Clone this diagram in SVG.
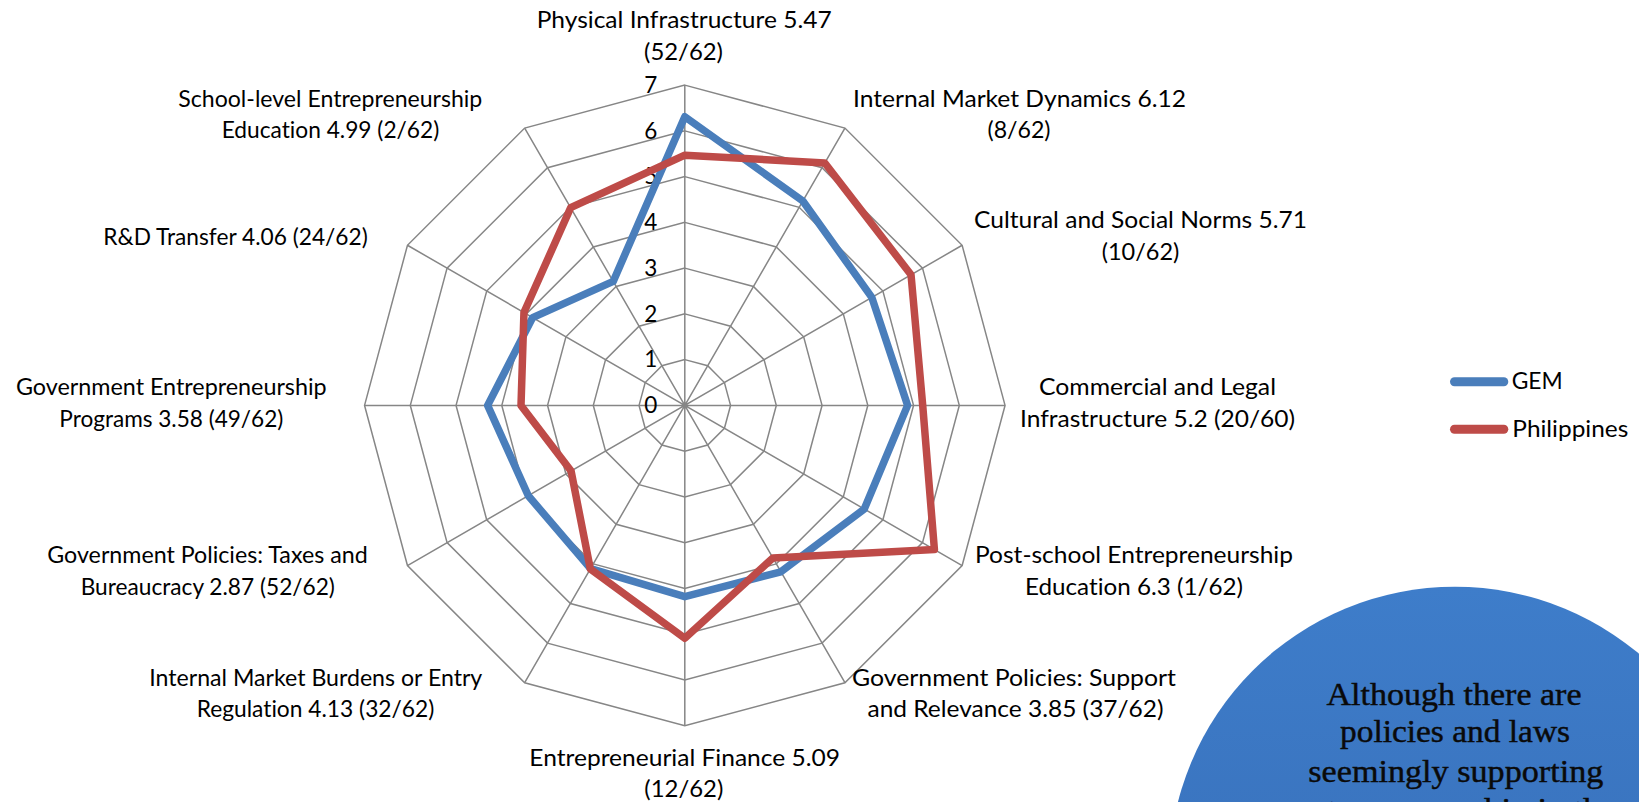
<svg xmlns="http://www.w3.org/2000/svg" width="1639" height="802" viewBox="0 0 1639 802">
<style>
.lbl{font-family:Lato,"Open Sans","Liberation Sans",sans-serif;font-size:22.5px;fill:#000;text-anchor:middle;font-variant-ligatures:none}
.num{font-family:Lato,"Open Sans","Liberation Sans",sans-serif;font-size:22.5px;fill:#000;text-anchor:end}
.ring{fill:none;stroke:#868686;stroke-width:1.5}
.ser{fill:none;stroke-width:7.5;stroke-linejoin:round}
.gem{stroke:#4A7EBB}
.phl{stroke:#BE4B48}
.leg{font-family:Lato,"Open Sans","Liberation Sans",sans-serif;font-size:22.5px;fill:#000;font-variant-ligatures:none}
.call{font-family:"Liberation Serif","DejaVu Serif",serif;font-size:32.5px;fill:#0a0a0a;stroke:#0a0a0a;stroke-width:0.45;text-anchor:middle}
</style>
<defs>
<linearGradient id="cg" x1="0" y1="0" x2="0" y2="1">
<stop offset="0" stop-color="#3E7DCA"/>
<stop offset="1" stop-color="#3569B2"/>
</linearGradient>
</defs>
<rect width="1639" height="802" fill="#fff"/>

<g id="grid" transform="translate(684.8,405.4)">
<polygon class="ring" points="0,-45.75 22.88,-39.62 39.62,-22.88 45.75,0 39.62,22.88 22.88,39.62 0,45.75 -22.88,39.62 -39.62,22.88 -45.75,0 -39.62,-22.88 -22.88,-39.62"/>
<polygon class="ring" points="0,-91.5 45.75,-79.24 79.24,-45.75 91.5,0 79.24,45.75 45.75,79.24 0,91.5 -45.75,79.24 -79.24,45.75 -91.5,0 -79.24,-45.75 -45.75,-79.24"/>
<polygon class="ring" points="0,-137.25 68.63,-118.86 118.86,-68.63 137.25,0 118.86,68.63 68.63,118.86 0,137.25 -68.63,118.86 -118.86,68.63 -137.25,0 -118.86,-68.63 -68.63,-118.86"/>
<polygon class="ring" points="0,-183 91.5,-158.48 158.48,-91.5 183,0 158.48,91.5 91.5,158.48 0,183 -91.5,158.48 -158.48,91.5 -183,0 -158.48,-91.5 -91.5,-158.48"/>
<polygon class="ring" points="0,-228.75 114.38,-198.1 198.1,-114.38 228.75,0 198.1,114.38 114.38,198.1 0,228.75 -114.38,198.1 -198.1,114.38 -228.75,0 -198.1,-114.38 -114.38,-198.1"/>
<polygon class="ring" points="0,-274.5 137.25,-237.72 237.72,-137.25 274.5,0 237.72,137.25 137.25,237.72 0,274.5 -137.25,237.72 -237.72,137.25 -274.5,0 -237.72,-137.25 -137.25,-237.72"/>
<polygon class="ring" points="0,-320.25 160.13,-277.34 277.34,-160.13 320.25,0 277.34,160.13 160.13,277.34 0,320.25 -160.13,277.34 -277.34,160.13 -320.25,0 -277.34,-160.13 -160.13,-277.34"/>
<path class="ring" d="M0,-320.25 L0,320.25 M160.13,-277.34 L-160.13,277.34 M277.34,-160.13 L-277.34,160.13 M-320.25,0 L320.25,0 M277.34,160.13 L-277.34,-160.13 M160.13,277.34 L-160.13,-277.34"/>
<text class="num" x="-27.5" y="7.8">0</text>
<text class="num" x="-27.5" y="-37.95">1</text>
<text class="num" x="-27.5" y="-83.7">2</text>
<text class="num" x="-27.5" y="-129.45">3</text>
<text class="num" x="-27.5" y="-175.2">4</text>
<text class="num" x="-27.5" y="-220.95">5</text>
<text class="num" x="-27.5" y="-266.7">6</text>
<text class="num" x="-27.5" y="-312.45">7</text>
</g>

<g id="connectors" transform="translate(684.8,405.4)">
<polygon id="series-gem" class="ser gem" points="0,-288.68 118.04,-204.44 187,-107.97 222.8,0 179.48,103.62 96.08,166.4 0,191.24 -94.25,163.23 -156.5,90.36 -197.18,0 -152.14,-87.84 -71.6,-124.01"/>
<polygon id="series-philippines" class="ser phl" points="0,-250.25 140,-242.47 226.23,-130.62 237.9,0 249.61,144.11 88.07,152.54 0,232.87 -94.47,163.63 -113.71,65.65 -163.79,0 -160.86,-92.87 -114.15,-197.71"/>
</g>

<g id="label-physical-infrastructure">
<text class="lbl" x="684.2" y="28.3" textLength="295" lengthAdjust="spacingAndGlyphs">Physical Infrastructure 5.47</text>
<text class="lbl" x="683.5" y="60" textLength="79" lengthAdjust="spacingAndGlyphs">(52/62)</text>
</g>
<g id="label-internal-market-dynamics">
<text class="lbl" x="1019.5" y="106.7" textLength="333" lengthAdjust="spacingAndGlyphs">Internal Market Dynamics 6.12</text>
<text class="lbl" x="1019" y="138.4" textLength="63" lengthAdjust="spacingAndGlyphs">(8/62)</text>
</g>
<g id="label-cultural-social-norms">
<text class="lbl" x="1140.5" y="228.3" textLength="333" lengthAdjust="spacingAndGlyphs">Cultural and Social Norms 5.71</text>
<text class="lbl" x="1140.5" y="260" textLength="77.6" lengthAdjust="spacingAndGlyphs">(10/62)</text>
</g>
<g id="label-commercial-legal">
<text class="lbl" x="1157.5" y="395" textLength="237" lengthAdjust="spacingAndGlyphs">Commercial and Legal</text>
<text class="lbl" x="1157.5" y="427" textLength="275" lengthAdjust="spacingAndGlyphs">Infrastructure 5.2 (20/60)</text>
</g>
<g id="label-post-school">
<text class="lbl" x="1134" y="563.3" textLength="318" lengthAdjust="spacingAndGlyphs">Post-school Entrepreneurship</text>
<text class="lbl" x="1134" y="595" textLength="218" lengthAdjust="spacingAndGlyphs">Education 6.3 (1/62)</text>
</g>
<g id="label-gov-support">
<text class="lbl" x="1014" y="686" textLength="324" lengthAdjust="spacingAndGlyphs">Government Policies: Support</text>
<text class="lbl" x="1015.5" y="717" textLength="296" lengthAdjust="spacingAndGlyphs">and Relevance 3.85 (37/62)</text>
</g>
<g id="label-entrepreneurial-finance">
<text class="lbl" x="684.7" y="765.7" textLength="310.7" lengthAdjust="spacingAndGlyphs">Entrepreneurial Finance 5.09</text>
<text class="lbl" x="683.8" y="797" textLength="79" lengthAdjust="spacingAndGlyphs">(12/62)</text>
</g>
<g id="label-internal-market-burdens">
<text class="lbl" x="315.8" y="686" textLength="333" lengthAdjust="spacingAndGlyphs">Internal Market Burdens or Entry</text>
<text class="lbl" x="315.5" y="716.7" textLength="237.6" lengthAdjust="spacingAndGlyphs">Regulation 4.13 (32/62)</text>
</g>
<g id="label-gov-taxes">
<text class="lbl" x="207.5" y="563.3" textLength="320.4" lengthAdjust="spacingAndGlyphs">Government Policies: Taxes and</text>
<text class="lbl" x="207.8" y="595" textLength="254.3" lengthAdjust="spacingAndGlyphs">Bureaucracy 2.87 (52/62)</text>
</g>
<g id="label-gov-programs">
<text class="lbl" x="171.3" y="395" textLength="310.7" lengthAdjust="spacingAndGlyphs">Government Entrepreneurship</text>
<text class="lbl" x="171.3" y="427" textLength="224" lengthAdjust="spacingAndGlyphs">Programs 3.58 (49/62)</text>
</g>
<g id="label-rd-transfer">
<text class="lbl" x="235.5" y="245" textLength="264.4" lengthAdjust="spacingAndGlyphs">R&amp;D Transfer 4.06 (24/62)</text>
</g>
<g id="label-school-level">
<text class="lbl" x="330.3" y="106.7" textLength="304" lengthAdjust="spacingAndGlyphs">School-level Entrepreneurship</text>
<text class="lbl" x="330.5" y="138.4" textLength="217.6" lengthAdjust="spacingAndGlyphs">Education 4.99 (2/62)</text>
</g>

<g id="legend">
<line x1="1454.5" y1="381.7" x2="1503.8" y2="381.7" stroke="#4A7EBB" stroke-width="9" stroke-linecap="round"/>
<text class="leg" x="1511.7" y="389.3" textLength="51" lengthAdjust="spacingAndGlyphs">GEM</text>
<line x1="1454.5" y1="429.3" x2="1503.8" y2="429.3" stroke="#BE4B48" stroke-width="9" stroke-linecap="round"/>
<text class="leg" x="1512.3" y="436.7" textLength="116" lengthAdjust="spacingAndGlyphs">Philippines</text>
</g>

<g id="callout">
<circle cx="1455" cy="872.6" r="285.9" fill="url(#cg)"/>
<text class="call" x="1454" y="705" textLength="255" lengthAdjust="spacingAndGlyphs">Although there are</text>
<text class="call" x="1455" y="742.3" textLength="230" lengthAdjust="spacingAndGlyphs">policies and laws</text>
<text class="call" x="1455.8" y="781.7" textLength="295" lengthAdjust="spacingAndGlyphs">seemingly supporting</text>
<text class="call" x="1455" y="820" textLength="322" lengthAdjust="spacingAndGlyphs">entrepreneurship in the</text>
</g>
</svg>
